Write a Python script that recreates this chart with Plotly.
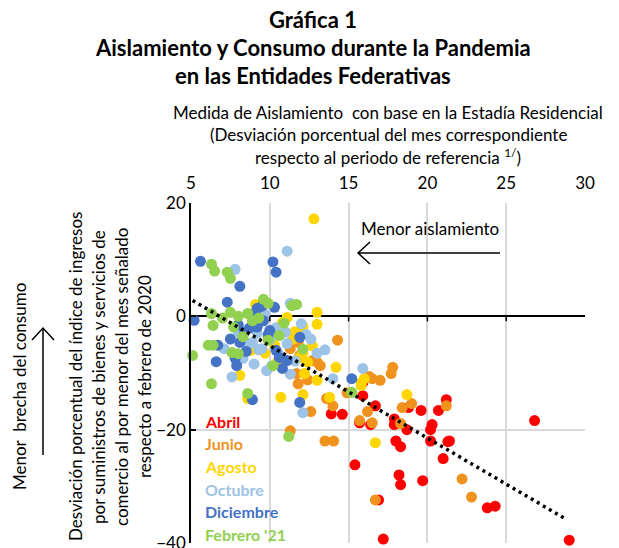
import plotly.graph_objects as go

# ---------------- data ----------------
series_names = ["Abril", "Junio", "Agosto", "Octubre", "Diciembre", "Febrero '21"]
series_colors = ["#FF0000", "#F0921E", "#FFD500", "#9DC3E6", "#4472C4", "#92D050"]

abril_x = [13.9, 14.6, 15.7, 16.4, 16.7, 15.9, 15.4, 17.2, 16.9, 17.9, 17.9, 18.7, 18.8, 18.0, 18.3, 18.2,
           18.3, 19.7, 19.6, 20.7, 20.3, 20.2, 20.2, 21.2, 21.3, 21.4, 21.0, 23.8, 24.3, 26.8, 29.0, 15.9]
abril_y = [-17.2, -17.3, -18.8, -19.1, -15.8, -14.0, -26.2, -39.3, -32.4, -18.1, -19.1, -20.0, -16.1, -22.0, -23.0, -28.0,
           -29.7, -29.0, -16.6, -16.6, -19.1, -20.0, -22.0, -14.7, -22.1, -22.0, -25.1, -33.8, -33.5, -18.4, -39.5, -11.7]

junio_x = [17.8, 17.7, 18.4, 19.0, 21.2, 18.3, 22.2, 22.8, 16.7, 13.5, 14.05, 11.3, 12.7, 11.7, 11.8, 12.4,
           16.3, 16.5, 14.0, 12.6, 13.6, 16.2, 16.5, 14.3, 11.8, 15.7, 13.2, 14.9, 11.9, 17.0, 13.0, 11.3]
junio_y = [-9.0, -10.1, -16.1, -15.4, -15.8, -18.9, -28.7, -31.9, -32.4, -22.0, -22.0, -20.2, -7.8, -10.1, -11.9, -11.2,
           -10.6, -11.0, -15.8, -16.8, -14.5, -16.8, -18.8, -4.2, -4.6, -18.4, -8.7, -13.5, -6.9, -11.3, -8.1, -5.7]

agosto_x = [12.8, 13.0, 13.0, 9.1, 10.8, 11.1, 12.1, 8.8, 9.7, 11.9, 12.4, 12.1, 12.2, 13.0, 13.8, 15.8,
            16.0, 8.1, 8.6, 10.7, 12.1, 16.7, 18.7, 15.8, 9.9, 10.3, 11.5, 8.4, 11.6, 12.7, 14.2, 10.5]
agosto_y = [17.2, 0.7, -1.4, 2.1, -1.1, -0.2, -1.8, -6.0, -6.5, -7.3, -8.1, -6.5, -10.1, -11.3, -14.3, -11.7,
            -11.0, -10.4, -14.5, -14.3, -13.8, -22.3, -13.8, -12.2, -3.5, -5.0, -4.0, -4.5, -2.7, -5.2, -9.0, -8.0]

octubre_x = [11.1, 7.8, 11.3, 9.7, 12.0, 11.0, 10.0, 8.9, 8.6, 13.5, 15.9, 8.3, 9.3, 11.1, 8.9, 7.6,
             9.8, 11.3, 14.0, 12.1, 9.5, 10.4, 8.0, 10.6, 12.6, 9.2, 11.6, 12.3, 7.1, 10.1, 9.0, 13.0]
octubre_y = [11.5, 8.3, 2.3, 0.4, -1.3, -2.8, -4.1, -4.6, -5.0, -5.9, -9.2, -7.4, -5.9, -4.8, -1.1, -10.7,
             -9.6, -10.2, -11.0, -17.0, -5.7, -2.0, -2.8, -6.8, -4.0, -3.0, -7.9, -3.2, -5.7, -8.8, -8.4, -6.5]

diciembre_x = [5.6, 10.2, 10.4, 8.1, 7.3, 5.2, 9.2, 9.5, 10.3, 9.2, 8.7, 8.4, 8.1, 11.9, 6.7, 6.6,
               7.9, 10.4, 10.6, 11.1, 7.8, 8.9, 10.8, 15.2, 11.9, 9.6, 8.0, 9.9, 8.5, 10.0, 7.5, 9.0]
diciembre_y = [9.7, 9.6, 7.8, 5.3, 2.5, -0.7, 1.4, 1.8, 1.6, -1.9, -2.1, -2.8, -4.6, -3.7, -5.1, -8.0,
               -8.7, -6.0, -7.3, -7.8, -7.4, -14.7, -9.2, -11.0, -15.2, -0.8, -1.5, -3.2, -6.2, -2.5, -4.0, 0.5]

febrero_x = [6.3, 6.5, 7.3, 7.5, 9.6, 9.9, 11.4, 11.7, 6.3, 7.5, 8.0, 8.6, 6.4, 7.7, 10.6, 6.1,
             6.4, 7.6, 8.0, 5.1, 9.9, 12.1, 10.2, 6.3, 8.6, 15.2, 11.2, 8.9, 9.3, 7.0, 10.9, 8.3]
febrero_y = [9.2, 8.0, 7.8, 6.7, 3.0, 2.3, 1.9, 2.1, 0.5, 0.7, 0.0, 0.5, -1.6, -1.9, -3.4, -5.1,
             -5.1, -6.4, -6.6, -6.9, -4.2, -5.8, -8.7, -11.9, -13.6, -13.4, -21.2, -0.8, -0.3, -0.3, -1.2, -3.6]

trend_x = [5.1, 28.8]
trend_y = [2.8, -35.8]

x_ticks = [5, 10, 15, 20, 25, 30]
y_ticks = [-40, -20, 0, 20]

title_lines = ["Gráfica 1", "Aislamiento y Consumo durante la Pandemia", "en las Entidades Federativas"]
xtitle_lines = ["Medida de Aislamiento  con base en la Estadía Residencial",
                "(Desviación porcentual del mes correspondiente",
                "respecto al periodo de referencia <sup>1/</sup>)"]
ytitle_lines = ["Desviación porcentual del índice de ingresos",
                "por suministros de bienes y servicios de",
                "comercio al por menor del mes señalado",
                "respecto a febrero de 2020"]

# ---------------- figure ----------------
FONT = "Lato"
OFF = 8  # default page body margin
L, R, T, B = 191, 585, 203, 543   # plot area in window pixels
W, H = R - L, B - T
FIG_W, FIG_H = 619 - OFF, 548 - OFF


def px(x):
    return (x - L) / W


def py(y):
    return (B - y) / H


all_x = [abril_x, junio_x, agosto_x, octubre_x, diciembre_x, febrero_x]
all_y = [abril_y, junio_y, agosto_y, octubre_y, diciembre_y, febrero_y]

fig = go.Figure()
for name, col, xs, ys in zip(series_names, series_colors, all_x, all_y):
    fig.add_trace(go.Scatter(x=xs, y=ys, mode="markers", name=name,
                             marker=dict(color=col, size=11, line=dict(width=0)),
                             cliponaxis=False, showlegend=False))

fig.add_trace(go.Scatter(x=trend_x, y=trend_y, mode="lines",
                         line=dict(color="black", width=3.5, dash="3px,4px"),
                         showlegend=False))

annotations = []
title_y = [20, 47, 75]
for i, t in enumerate(title_lines):
    annotations.append(dict(text="<b>%s</b>" % t, x=px(313), y=py(title_y[i]), xref="paper", yref="paper",
                            showarrow=False, font=dict(family=FONT, size=22, color="black"),
                            xanchor="center", yanchor="middle"))
for i, t in enumerate(xtitle_lines):
    annotations.append(dict(text=t, x=px(388), y=py(112 + 22 * i), xref="paper", yref="paper",
                            showarrow=False, font=dict(family=FONT, size=17, color="black"),
                            xanchor="center", yanchor="middle"))
for i, t in enumerate(ytitle_lines):
    annotations.append(dict(text=t, x=px(75 + 23 * i), y=py(377), xref="paper", yref="paper",
                            showarrow=False, textangle=-90, font=dict(family=FONT, size=17, color="black"),
                            xanchor="center", yanchor="middle"))
annotations.append(dict(text="Menor  brecha del consumo", x=px(19), y=py(387), xref="paper", yref="paper",
                        showarrow=False, textangle=-90, font=dict(family=FONT, size=17, color="black"),
                        xanchor="center", yanchor="middle"))
annotations.append(dict(text="Menor aislamiento", x=px(430), y=py(229), xref="paper", yref="paper",
                        showarrow=False, font=dict(family=FONT, size=17, color="black"),
                        xanchor="center", yanchor="middle"))

legend_y = [421, 443, 466, 489, 511, 534]
for name, col, yy in zip(series_names, series_colors, legend_y):
    annotations.append(dict(text="<b>%s</b>" % name, x=px(203), y=py(yy), xref="paper", yref="paper",
                            showarrow=False, font=dict(family=FONT, size=16, color=col),
                            xanchor="left", yanchor="middle"))

shapes = [
    dict(type="path", xref="paper", yref="paper",
         path="M %f,%f L %f,%f M %f,%f L %f,%f L %f,%f" % (
             px(500), py(253), px(358), py(253), px(370), py(242), px(358), py(253), px(370), py(264)),
         line=dict(color="black", width=1.5)),
    dict(type="path", xref="paper", yref="paper",
         path="M %f,%f L %f,%f M %f,%f L %f,%f L %f,%f" % (
             px(43), py(455), px(43), py(328), px(32), py(340), px(43), py(328), px(54), py(340)),
         line=dict(color="black", width=1.5)),
]
for t in x_ticks[1:-1]:
    shapes.append(dict(type="line", xref="x", yref="y", x0=t, x1=t, ysizemode="pixel", yanchor=0,
                       y0=0, y1=-5, line=dict(color="black", width=1.5)))

fig.update_layout(
    width=FIG_W, height=FIG_H,
    margin=dict(l=L - OFF, r=FIG_W - (R - OFF), t=T - OFF, b=FIG_H - (B - OFF), pad=0, autoexpand=False),
    paper_bgcolor="white", plot_bgcolor="white",
    font=dict(family=FONT, color="black"),
    xaxis=dict(range=[5, 30], side="top", tickvals=x_ticks, showgrid=True, gridcolor="#D9D9D9",
               gridwidth=1.5, zeroline=False, showline=False, ticks="", ticklabelstandoff=10,
               ticklabeloverflow="allow", automargin=False,
               tickfont=dict(family=FONT, size=17, color="black"), fixedrange=True),
    yaxis=dict(range=[-40, 20], tickvals=y_ticks, showgrid=True, gridcolor="#D9D9D9", gridwidth=1.5,
               zeroline=True, zerolinecolor="black", zerolinewidth=1.5,
               showline=True, linecolor="black", linewidth=1.5, ticks="inside", ticklen=5,
               tickcolor="black", tickwidth=1.5, ticklabeloverflow="allow", automargin=False,
               tickfont=dict(family=FONT, size=17, color="black"), fixedrange=True),
    annotations=annotations,
    shapes=shapes,
)

fig.write_html("out.html")
